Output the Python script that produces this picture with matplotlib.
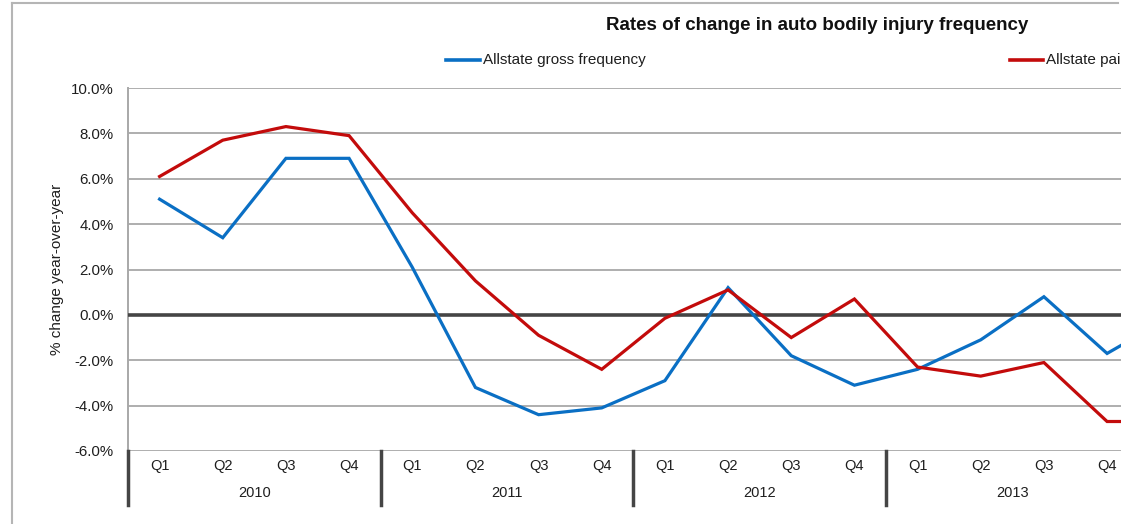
import matplotlib
matplotlib.use("Agg")
import matplotlib.pyplot as plt
from matplotlib.lines import Line2D
import matplotlib.transforms as mtransforms
from matplotlib.ticker import FuncFormatter

# ---------------- data ----------------
quarters = ['Q1', 'Q2', 'Q3', 'Q4'] * 4
years = ['2010', '2011', '2012', '2013']
# last value of each series belongs to the next quarter, which lies past the cropped edge
gross = [5.1, 3.4, 6.9, 6.9, 2.1, -3.2, -4.4, -4.1, -2.9, 1.2, -1.8, -3.1,
         -2.4, -1.1, 0.8, -1.7, -0.1]
paid = [6.1, 7.7, 8.3, 7.9, 4.5, 1.5, -0.9, -2.4, -0.15, 1.1, -1.0, 0.7,
        -2.3, -2.7, -2.1, -4.7, -4.7]
series_names = ['Allstate gross frequency', 'Allstate paid frequency']
title = 'Rates of change in auto bodily injury frequency'
ylabel = '% change year-over-year'
yticks = [-6, -4, -2, 0, 2, 4, 6, 8, 10]

# ---------------- layout ----------------
W, H = 1121, 524
plt.rcParams['font.family'] = ['Liberation Sans', 'DejaVu Sans']
fig = plt.figure(figsize=(W / 100, H / 100), dpi=100)

cat_w = (886 - 128) / 12.0
n = len(gross)
ax_left, ax_top, ax_bottom = 128, 88, 451
ax_w = n * cat_w
ax = fig.add_axes([ax_left / W, 1 - ax_bottom / H, ax_w / W, (ax_bottom - ax_top) / H])

blue = '#0a6fc4'
red = '#c30b0b'
grid_c = '#a8a8a8'
dark = '#454545'
txt = '#1e1e1e'

x = list(range(n))
ax.plot(x, gross, color=blue, lw=2.3, solid_joinstyle='miter', zorder=4)
ax.plot(x, paid, color=red, lw=2.3, solid_joinstyle='miter', zorder=4)

ax.set_xlim(-0.5, n - 0.5)
ax.set_ylim(-6, 10)
ax.set_yticks(yticks)
ax.yaxis.set_major_formatter(FuncFormatter(lambda v, p: f'{v:.1f}%'))
ax.grid(axis='y', color=grid_c, lw=1.3, zorder=1)
ax.axhline(0, color=dark, lw=2.6, zorder=3)

for s in ['top', 'right', 'bottom']:
    ax.spines[s].set_visible(False)
ax.spines['left'].set_color(grid_c)
ax.spines['left'].set_linewidth(1.4)

ax.tick_params(axis='y', length=0, pad=10.5, labelsize=10.8, labelcolor=txt)
ax.set_xticks(range(len(quarters)))
ax.set_xticklabels(quarters)
ax.tick_params(axis='x', length=0, pad=6, labelsize=10.5, labelcolor=txt)

trans = mtransforms.blended_transform_factory(ax.transData, ax.transAxes)
sep_bottom = -(505 - ax_bottom) / (ax_bottom - ax_top)
for i in range(len(years)):
    xs = 4 * i - 0.5
    ax.plot([xs, xs], [0, sep_bottom], transform=trans, color=dark, lw=2.5,
            clip_on=False, zorder=5)
    ax.text(4 * i + 1.5, -(493 - ax_bottom) / (ax_bottom - ax_top), years[i],
            transform=trans, ha='center', va='center', fontsize=10.5, color=txt)

# title and y label
fig.text(817 / W, 1 - 25 / H, title, ha='center', va='center', fontsize=13.5,
         fontweight='bold', color='#111111')
fig.text(57 / W, 1 - 269.5 / H, ylabel, ha='center', va='center', rotation=90,
         fontsize=11, color=txt)

# legend (manual, positioned as in reference; second entry is cropped at the edge)
for (x0, x1, col, name) in [(446, 480, blue, series_names[0]),
                             (1010, 1043, red, series_names[1])]:
    fig.add_artist(Line2D([x0 / W, x1 / W], [1 - 60 / H, 1 - 60 / H], color=col, lw=2.6))
    fig.text((x1 + 3) / W, 1 - 60 / H, name, ha='left', va='center', fontsize=11, color=txt)

# outer chart frame (left and top edges visible)
fig.add_artist(Line2D([12 / W, 12 / W], [0, 1 - 3 / H], color='#b5b5b5', lw=1.5))
fig.add_artist(Line2D([12 / W, 1118 / W], [1 - 3 / H, 1 - 3 / H], color='#b5b5b5', lw=1.5))

fig.savefig('out.png', dpi=100)
